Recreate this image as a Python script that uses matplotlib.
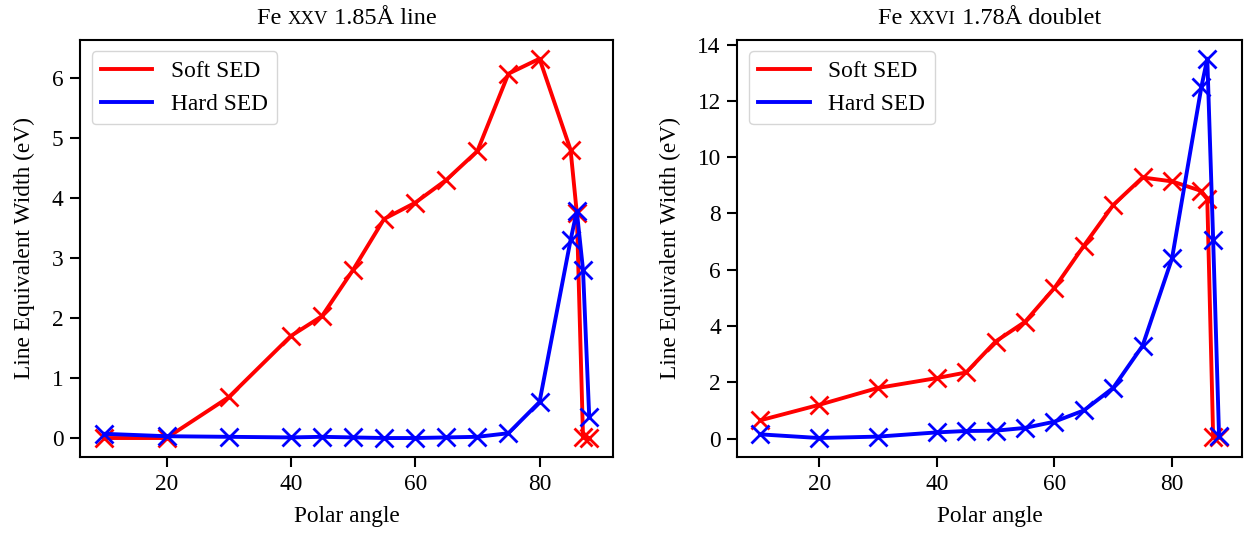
import matplotlib
matplotlib.use('Agg')
import matplotlib.pyplot as plt
from matplotlib.offsetbox import TextArea, HPacker, AnchoredOffsetbox

plt.rcParams['font.family'] = ['Liberation Serif', 'DejaVu Serif']

# 極角
angles = [10, 20, 30, 40, 45, 50, 55, 60, 65, 70, 75, 80, 85, 86, 87, 88]

# Fe XXV 1.85A line
fe25_soft = [0.0, 0.0, 0.68, 1.7, 2.03, 2.8, 3.65, 3.92, 4.3, 4.78, 6.07, 6.32, 4.8, 3.75, 0.02, 0.0]
fe25_hard = [0.07, 0.03, 0.02, 0.01, 0.02, 0.01, 0.0, 0.0, 0.01, 0.02, 0.08, 0.6, 3.3, 3.78, 2.8, 0.35]

# Fe XXVI 1.78A doublet
fe26_soft = [0.65, 1.2, 1.8, 2.15, 2.35, 3.45, 4.15, 5.35, 6.85, 8.3, 9.28, 9.14, 8.8, 8.5, 0.05, 0.05]
fe26_hard = [0.15, 0.02, 0.07, 0.22, 0.27, 0.28, 0.38, 0.6, 1.0, 1.8, 3.3, 6.4, 12.5, 13.5, 7.05, 0.1]

titles = [('Fe ', 'XXV', ' 1.85Å line'), ('Fe ', 'XXVI', ' 1.78Å doublet')]

fs = 16.8

fig = plt.figure(figsize=(12.52, 5.37), dpi=100)
ax1 = fig.add_axes([0.064, 0.149, 0.426, 0.777])
ax2 = fig.add_axes([0.589, 0.149, 0.403, 0.777])

for ax, soft, hard, t in zip([ax1, ax2], [fe25_soft, fe26_soft], [fe25_hard, fe26_hard], titles):
    ax.plot(angles, soft, color='red', lw=2.8, marker='x', ms=13, mew=2, label='Soft SED')
    ax.plot(angles, hard, color='blue', lw=2.8, marker='x', ms=13, mew=2, label='Hard SED')
    ax.set_xlabel('Polar angle', fontsize=fs, labelpad=8)
    ax.set_ylabel('Line Equivalent Width (eV)', fontsize=fs, labelpad=12)
    ax.tick_params(labelsize=fs, width=1.5, length=7, pad=5)
    for s in ax.spines.values():
        s.set_linewidth(1.5)
    ax.set_xticks([20, 40, 60, 80])
    leg = ax.legend(loc='upper left', fontsize=fs, handlelength=2.2)
    for line in leg.get_lines():
        line.set_marker('')
    # 標題 小型大寫
    parts = [TextArea(t[0], textprops=dict(fontsize=17.5)),
             TextArea(t[1], textprops=dict(fontsize=13.5)),
             TextArea(t[2], textprops=dict(fontsize=17.5))]
    box = HPacker(children=parts, align='baseline', pad=0, sep=0)
    anc = AnchoredOffsetbox(loc='lower center', child=box, pad=0, frameon=False,
                            bbox_to_anchor=(0.5, 1.025), bbox_transform=ax.transAxes,
                            borderpad=0)
    ax.add_artist(anc)

ax1.set_yticks([0, 1, 2, 3, 4, 5, 6])
ax2.set_yticks([0, 2, 4, 6, 8, 10, 12, 14])

fig.savefig('out.png', dpi=100)
